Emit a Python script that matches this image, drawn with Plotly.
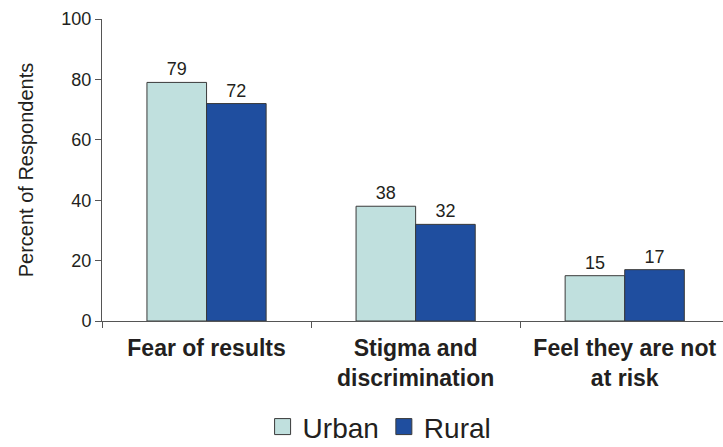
import plotly.graph_objects as go

categories = ["Fear of results", "Stigma and<br>discrimination", "Feel they are not<br>at risk"]
urban = [79, 38, 15]
rural = [72, 32, 17]
y_ticks = [0, 20, 40, 60, 80, 100]

URBAN_C = "#c0e0de"
RURAL_C = "#1f4e9f"
TXT = "#231f20"
FONT = "Liberation Sans, Arial, sans-serif"

fig = go.Figure()
fig.add_trace(go.Bar(x=categories, y=urban, name="Urban", marker=dict(color=URBAN_C, line=dict(color="#3a3a3a", width=1)),
                     text=urban, textposition="outside", textfont=dict(size=18, color=TXT), cliponaxis=False, showlegend=False))
fig.add_trace(go.Bar(x=categories, y=rural, name="Rural", marker=dict(color=RURAL_C, line=dict(color="#3a3a3a", width=1)),
                     text=rural, textposition="outside", textfont=dict(size=18, color=TXT), cliponaxis=False, showlegend=False))
# legend entries
for nm, c in [("Urban", URBAN_C), ("Rural", RURAL_C)]:
    fig.add_trace(go.Scatter(x=[None], y=[None], mode="markers", name=nm,
                             marker=dict(symbol="square", size=24, color=c, line=dict(color="#3a3a3a", width=1))))

fig.update_layout(
    width=723, height=447,
    margin=dict(l=102, r=0, t=19, b=126, autoexpand=False),
    paper_bgcolor="white", plot_bgcolor="white",
    barmode="group", bargap=0.43, bargroupgap=0,
    font=dict(family=FONT, color=TXT),
    legend=dict(orientation="h", x=0.447, xanchor="center", yref="container", y=0.045, yanchor="middle",
                font=dict(size=28, color=TXT), itemsizing="trace", itemwidth=30,
                bgcolor="rgba(0,0,0,0)"),
    xaxis=dict(type="category", range=[-0.5, 2.47], tickson="boundaries", ticks="outside", ticklen=6,
               tickcolor="#555", showline=True, linecolor="#555", linewidth=1, automargin=False,
               tickfont=dict(size=23, color=TXT, family=FONT), ticklabelstandoff=6,
               ticktext=["<b>" + c + "</b>" for c in categories], tickvals=categories,
               showgrid=False),
    yaxis=dict(range=[0, 100], tickvals=y_ticks, ticks="outside", ticklen=6, tickcolor="#555",
               showline=True, linecolor="#555", linewidth=1, showgrid=False, zeroline=False, automargin=False,
               tickfont=dict(size=18, color=TXT),
               title=dict(text="Percent of Respondents", font=dict(size=20, color=TXT), standoff=22)),
)

fig.write_html("out.html", config={"displayModeBar": False},
               post_script="document.body.style.margin='0px';")
